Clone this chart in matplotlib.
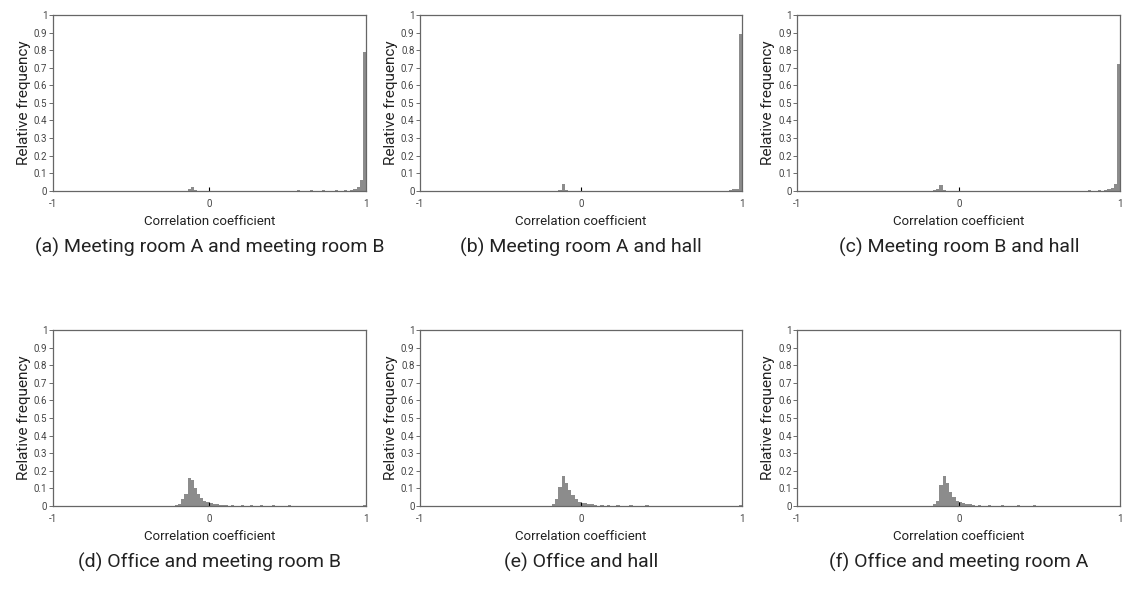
import matplotlib.pyplot as plt

plt.rcParams['font.family'] = ['Roboto', 'DejaVu Sans']

BIN_W = 0.02

# left bin edges and relative frequencies (non-empty bins only)
bins_a = [-0.14, -0.12, -0.10, 0.56, 0.64, 0.72, 0.80, 0.86, 0.90, 0.92, 0.94, 0.96, 0.98]
freq_a = [0.008, 0.02, 0.005, 0.003, 0.004, 0.004, 0.004, 0.005, 0.006, 0.01, 0.02, 0.06, 0.79]

bins_b = [-0.14, -0.12, -0.10, 0.92, 0.94, 0.96, 0.98]
freq_b = [0.005, 0.038, 0.004, 0.004, 0.008, 0.012, 0.89]

bins_c = [-0.16, -0.14, -0.12, -0.10, 0.80, 0.86, 0.90, 0.92, 0.94, 0.96, 0.98]
freq_c = [0.003, 0.01, 0.035, 0.006, 0.003, 0.004, 0.005, 0.008, 0.015, 0.04, 0.72]

bins_d = [-0.22, -0.20, -0.18, -0.16, -0.14, -0.12, -0.10, -0.08, -0.06, -0.04, -0.02,
          0.00, 0.02, 0.04, 0.06, 0.08, 0.10, 0.14, 0.20, 0.26, 0.32, 0.40, 0.50, 0.60, 0.98]
freq_d = [0.003, 0.01, 0.04, 0.07, 0.16, 0.15, 0.10, 0.065, 0.045, 0.03, 0.02,
          0.015, 0.012, 0.01, 0.008, 0.007, 0.006, 0.005, 0.004, 0.004, 0.003, 0.003, 0.003, 0.002, 0.004]

bins_e = [-0.18, -0.16, -0.14, -0.12, -0.10, -0.08, -0.06, -0.04, -0.02,
          0.00, 0.02, 0.04, 0.06, 0.08, 0.12, 0.16, 0.22, 0.30, 0.40, 0.52, 0.98]
freq_e = [0.01, 0.04, 0.11, 0.17, 0.13, 0.09, 0.06, 0.04, 0.025,
          0.018, 0.015, 0.012, 0.01, 0.008, 0.006, 0.005, 0.004, 0.003, 0.003, 0.002, 0.003]

bins_f = [-0.16, -0.14, -0.12, -0.10, -0.08, -0.06, -0.04, -0.02,
          0.00, 0.02, 0.04, 0.06, 0.08, 0.12, 0.18, 0.26, 0.36, 0.46, 0.58]
freq_f = [0.01, 0.03, 0.12, 0.17, 0.13, 0.08, 0.05, 0.03,
          0.02, 0.015, 0.012, 0.01, 0.008, 0.006, 0.005, 0.004, 0.003, 0.003, 0.002]

captions = [
    "(a) Meeting room A and meeting room B",
    "(b) Meeting room A and hall",
    "(c) Meeting room B and hall",
    "(d) Office and meeting room B",
    "(e) Office and hall",
    "(f) Office and meeting room A",
]
panels = [(bins_a, freq_a), (bins_b, freq_b), (bins_c, freq_c),
          (bins_d, freq_d), (bins_e, freq_e), (bins_f, freq_f)]

yticks = [0, 0.1, 0.2, 0.3, 0.4, 0.5, 0.6, 0.7, 0.8, 0.9, 1]
ytick_labels = ["0", "0.1", "0.2", "0.3", "0.4", "0.5", "0.6", "0.7", "0.8", "0.9", "1"]

fig = plt.figure(figsize=(11.26, 5.98), dpi=100)

lefts = [0.047, 0.373, 0.708]
widths = [0.278, 0.286, 0.287]
bottoms = [0.681, 0.154]
height = 0.294

for i, ((bins, freq), cap) in enumerate(zip(panels, captions)):
    row, col = divmod(i, 3)
    ax = fig.add_axes([lefts[col], bottoms[row], widths[col], height])
    ax.bar(bins, freq, width=BIN_W, align='edge', color='#8c8c8c', edgecolor='none')
    ax.set_xlim(-1, 1)
    ax.set_ylim(0, 1)
    ax.set_yticks(yticks)
    ax.set_yticklabels(ytick_labels)
    ax.set_xticks([-1, 0, 1])
    ax.set_xticklabels(["-1", "0", "1"])
    ax.tick_params(axis='y', direction='out', length=3, width=0.6, color='#555555',
                   labelsize=7, labelcolor='#444444', pad=1)
    ax.tick_params(axis='x', direction='in', length=3, width=0.8, color='black',
                   labelsize=7, labelcolor='#444444', pad=6)
    for s in ax.spines.values():
        s.set_color('#666666')
        s.set_linewidth(0.9)
    ax.set_ylabel("Relative frequency", fontsize=11, color='#222222', labelpad=2)
    ax.set_xlabel("Correlation coefficient", fontsize=9.5, color='#222222', labelpad=4)
    # hide the end tick marks on x, keep only the 0 tick mark
    xt = ax.xaxis.get_major_ticks()
    xt[0].tick1line.set_visible(False)
    xt[2].tick1line.set_visible(False)
    cx = lefts[col] + widths[col] / 2
    cy = bottoms[row] - 0.078
    fig.text(cx, cy, cap, ha='center', va='top', fontsize=14, color='#222222')

fig.savefig("out.png", dpi=100)
